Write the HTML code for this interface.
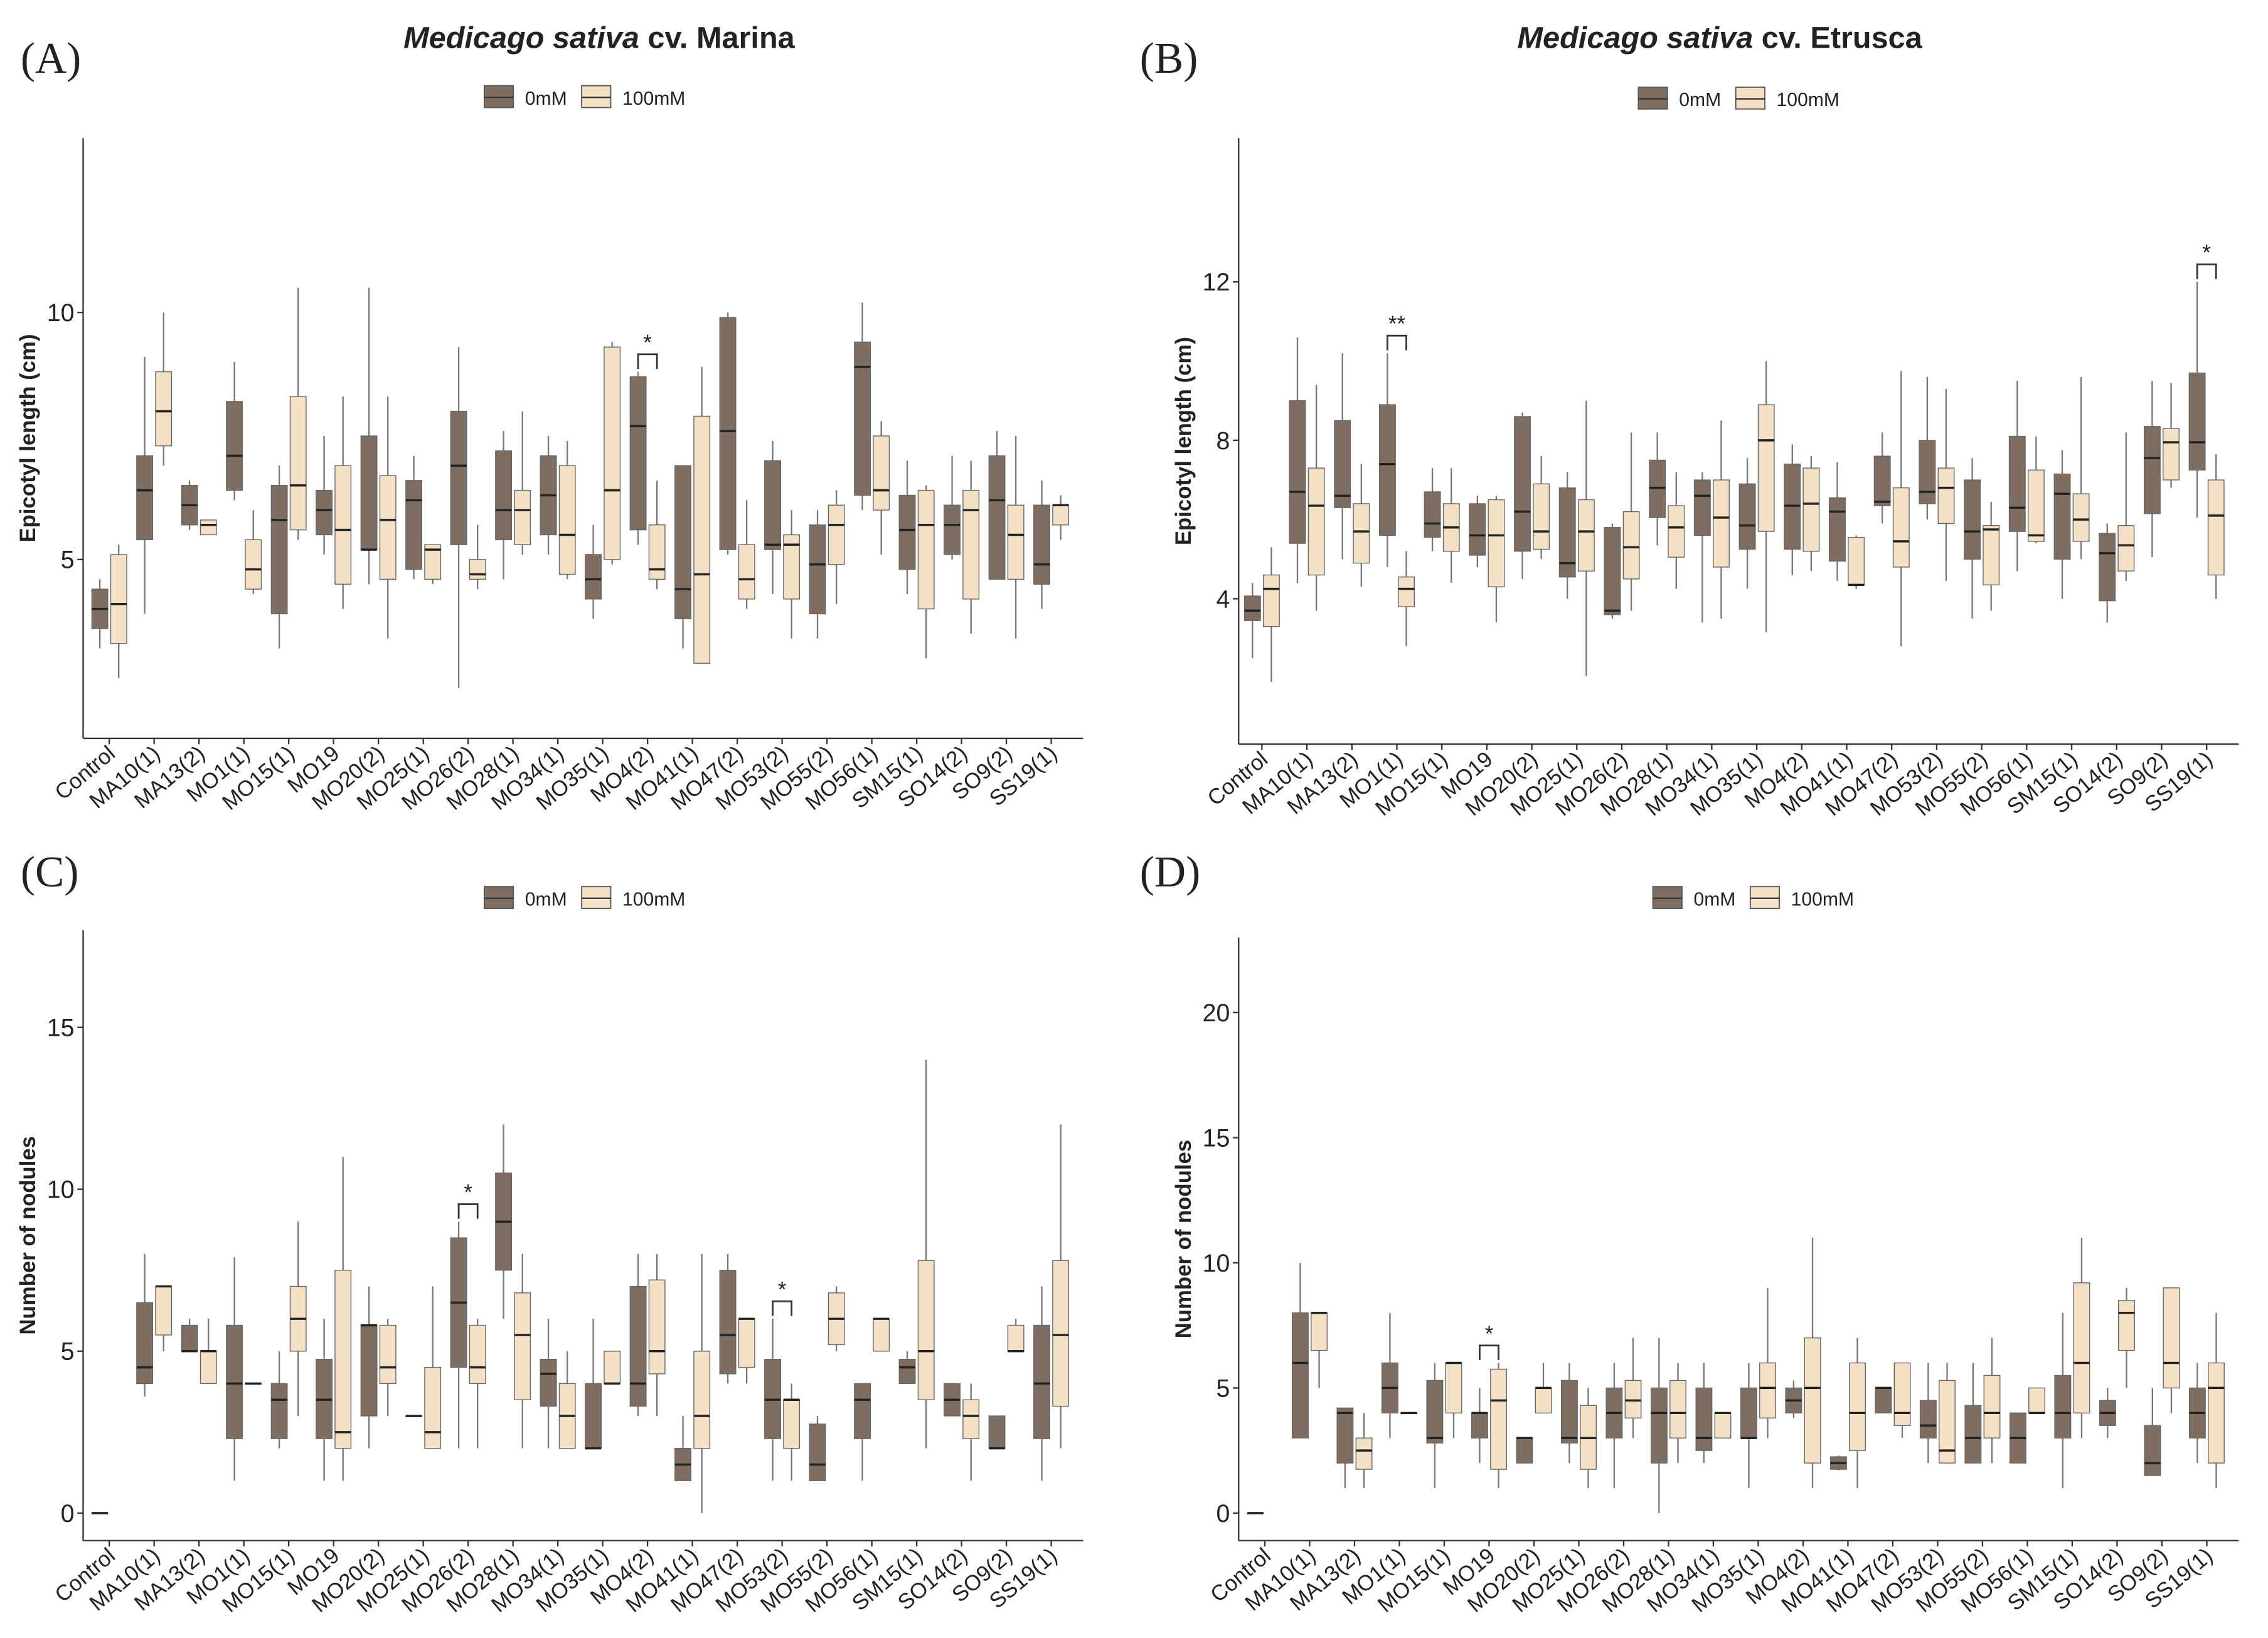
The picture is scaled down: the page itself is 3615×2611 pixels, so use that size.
<!DOCTYPE html>
<html><head><meta charset="utf-8"><style>
html,body{margin:0;padding:0;background:#fff}
svg{display:block}
text{font-family:"Liberation Sans",sans-serif;fill:#222}
</style></head><body>
<svg id="fig" xmlns="http://www.w3.org/2000/svg" width="3615" height="2611" viewBox="0 0 1560 1127">
<rect width="1560" height="1127" fill="#fff"/>
</svg>
<script>
const categories=["Control","MA10(1)","MA13(2)","MO1(1)","MO15(1)","MO19","MO20(2)","MO25(1)","MO26(2)","MO28(1)","MO34(1)","MO35(1)","MO4(2)","MO41(1)","MO47(2)","MO53(2)","MO55(2)","MO56(1)","SM15(1)","SO14(2)","SO9(2)","SS19(1)"];
const seriesNames=["0mM","100mM"];
// [lo, q1, median, q3, hi]
const aZero=[[3.2,3.6,4.0,4.4,4.6],[3.9,5.4,6.4,7.1,9.1],[5.6,5.7,6.1,6.5,6.6],[6.2,6.4,7.1,8.2,9.0],[3.2,3.9,5.8,6.5,6.9],[5.1,5.5,6.0,6.4,7.5],[4.5,5.2,5.2,7.5,10.5],[4.6,4.8,6.2,6.6,7.1],[2.4,5.3,6.9,8.0,9.3],[4.6,5.4,6.0,7.2,7.6],[5.1,5.5,6.3,7.1,7.5],[3.8,4.2,4.6,5.1,5.7],[5.3,5.6,7.7,8.7,8.8],[3.2,3.8,4.4,6.9,6.9],[5.1,5.2,7.6,9.9,10.0],[4.3,5.2,5.3,7.0,7.4],[3.4,3.9,4.9,5.7,6.0],[6.0,6.3,8.9,9.4,10.2],[4.3,4.8,5.6,6.3,7.0],[5.0,5.1,5.7,6.1,7.1],[4.6,4.6,6.2,7.1,7.6],[4.0,4.5,4.9,6.1,6.6]];
const aHundred=[[2.6,3.3,4.1,5.1,5.3],[6.9,7.3,8.0,8.8,10.0],[5.5,5.5,5.7,5.8,5.8],[4.3,4.4,4.8,5.4,6.0],[5.4,5.6,6.5,8.3,10.5],[4.0,4.5,5.6,6.9,8.3],[3.4,4.6,5.8,6.7,8.3],[4.5,4.6,5.2,5.3,5.3],[4.4,4.6,4.7,5.0,5.7],[5.1,5.3,6.0,6.4,8.0],[4.6,4.7,5.5,6.9,7.4],[4.9,5.0,6.4,9.3,9.4],[4.4,4.6,4.8,5.7,6.6],[2.9,2.9,4.7,7.9,8.9],[4.0,4.2,4.6,5.3,6.2],[3.4,4.2,5.3,5.5,6.0],[4.1,4.9,5.7,6.1,6.4],[5.1,6.0,6.4,7.5,7.8],[3.0,4.0,5.7,6.4,6.5],[3.5,4.2,6.0,6.4,7.0],[3.4,4.6,5.5,6.1,7.5],[5.4,5.7,6.1,6.1,6.3]];
const bZero=[[2.5,3.45,3.7,4.07,4.4],[4.4,5.4,6.7,9.0,10.6],[5.0,6.3,6.6,8.5,10.2],[4.8,5.6,7.4,8.9,10.2],[5.2,5.55,5.9,6.7,7.3],[4.8,5.1,5.6,6.4,6.6],[4.5,5.2,6.2,8.6,8.7],[4.0,4.55,4.9,6.8,7.2],[3.5,3.6,3.7,5.8,5.9],[5.35,6.05,6.8,7.5,8.2],[3.4,5.6,6.6,7.0,7.2],[4.25,5.25,5.85,6.9,7.55],[4.6,5.25,6.35,7.4,7.9],[4.45,4.95,6.2,6.55,7.45],[5.9,6.35,6.45,7.6,8.2],[6.0,6.4,6.7,8.0,9.6],[3.5,5.0,5.7,7.0,7.55],[4.7,5.7,6.3,8.1,9.5],[4.0,5.0,6.65,7.15,7.75],[3.4,3.95,5.15,5.65,5.9],[5.05,6.15,7.55,8.35,9.5],[6.05,7.25,7.95,9.7,12.0]];
const bHundred=[[1.9,3.3,4.25,4.6,5.3],[3.7,4.6,6.35,7.3,9.4],[4.3,4.9,5.7,6.4,7.4],[2.8,3.8,4.25,4.55,5.2],[4.4,5.2,5.8,6.4,7.3],[3.4,4.3,5.6,6.5,6.6],[5.0,5.25,5.7,6.9,7.6],[2.05,4.7,5.7,6.5,9.0],[3.7,4.5,5.3,6.2,8.2],[4.25,5.05,5.8,6.35,7.2],[3.5,4.8,6.05,7.0,8.5],[3.15,5.7,8.0,8.9,10.0],[4.7,5.2,6.4,7.3,7.6],[4.25,4.35,4.35,5.55,5.6],[2.8,4.8,5.45,6.8,9.75],[4.45,5.9,6.8,7.3,9.3],[3.7,4.35,5.75,5.85,6.45],[5.4,5.45,5.6,7.25,8.1],[5.0,5.45,6.0,6.65,9.6],[4.45,4.7,5.35,5.85,8.2],[6.8,7.0,7.95,8.3,9.45],[4.0,4.6,6.1,7.0,7.65]];
const cZero=[[0,0,0,0,0],[3.6,4.0,4.5,6.5,8.0],[5.0,5.0,5.0,5.8,6.0],[1.0,2.3,4.0,5.8,7.9],[2.0,2.3,3.5,4.0,5.0],[1.0,2.3,3.5,4.75,6.0],[2.0,3.0,5.8,5.8,7.0],[3,3,3,3,3],[2.0,4.5,6.5,8.5,9.0],[6.0,7.5,9.0,10.5,12.0],[2.0,3.3,4.3,4.75,6.0],[2.0,2.0,2.0,4.0,6.0],[3.0,3.3,4.0,7.0,8.0],[1.0,1.0,1.5,2.0,3.0],[4.0,4.3,5.5,7.5,8.0],[1.0,2.3,3.5,4.75,6.0],[1.0,1.0,1.5,2.75,3.0],[1.0,2.3,3.5,4.0,4.0],[4.0,4.0,4.5,4.75,5.0],[3.0,3.0,3.5,4.0,4.0],[2.0,2.0,2.0,3.0,3.0],[1.0,2.3,4.0,5.8,7.0]];
const cHundred=[null,[5.0,5.5,7.0,7.0,7.0],[4.0,4.0,5.0,5.0,6.0],[4,4,4,4,4],[3.0,5.0,6.0,7.0,9.0],[1.0,2.0,2.5,7.5,11.0],[3.0,4.0,4.5,5.8,6.0],[2.0,2.0,2.5,4.5,7.0],[2.0,4.0,4.5,5.8,6.0],[2.0,3.5,5.5,6.8,8.0],[2.0,2.0,3.0,4.0,5.0],[4.0,4.0,4.0,5.0,5.0],[3.0,4.3,5.0,7.2,8.0],[0,2.0,3.0,5.0,8.0],[4.0,4.5,6.0,6.0,6.0],[1.0,2.0,3.5,3.5,4.0],[5.0,5.2,6.0,6.8,7.0],[5.0,5.0,6.0,6.0,6.0],[2.0,3.5,5.0,7.8,14.0],[1.0,2.3,3.0,3.5,4.0],[5.0,5.0,5.0,5.8,6.0],[2.0,3.3,5.5,7.8,12.0]];
const dZero=[[0,0,0,0,0],[3,3,6,8,10],[1,2,4,4.2,4.2],[3,4,5,6,8],[1,2.8,3,5.3,6],[2,3,4,4,5],[2,2,3,3,3],[2,2.8,3,5.3,6],[1,3,4,5,6],[0,2,4,5,7],[2,2.5,3,5,6],[1,3,3,5,6],[3.8,4,4.5,5,5.3],[1.7,1.75,2,2.25,2.3],[4,4,5,5,5],[2,3,3.5,4.5,6],[2,2,3,4.3,6],[2,2,3,4,4],[1,3,4,5.5,8],[3,3.5,4,4.5,5],[1.5,1.5,2,3.5,5],[2,3,4,5,6]];
const dHundred=[null,[5,6.5,8,8,8],[1,1.75,2.5,3,4],[4,4,4,4,4],[3,4,6,6,6],[1,1.75,4.5,5.75,6],[4,4,5,5,6],[1,1.75,3,4.3,5],[3,3.8,4.5,5.3,7],[2,3,4,5.3,6],[3,3,4,4,4],[3,3.8,5,6,9],[1,2,5,7,11],[1,2.5,4,6,7],[3,3.5,4,6,6],[2,2,2.5,5.3,6],[2,3,4,5.5,7],[4,4,4,5,5],[3,4,6,9.2,11],[5,6.5,8,8.5,9],[4,5,6,9,9],[1,2,5,6,8]];
const aTicks=[5,10], bTicks=[4,8,12], cTicks=[0,5,10,15], dTicks=[0,5,10,15,20];
const aSig=[[12,"*"]], bSig=[[3,"**"],[21,"*"]], cSig=[[8,"*"],[15,"*"]], dSig=[[5,"*"]];

const NS="http://www.w3.org/2000/svg";
const svg=document.getElementById('fig');
function mk(tag,attrs,parent,txt){const e=document.createElementNS(NS,tag);for(const k in attrs)e.setAttribute(k,attrs[k]);if(txt!==undefined)e.textContent=txt;(parent||svg).appendChild(e);return e;}
const COL=["#7e6e62","#f4e0c4"];

function panel(o){
  const g=mk('g',{},svg);
  
  
  const y=v=>o.yb-(v-o.vmin)*(o.yb-o.yt)/(o.vmax-o.vmin);
  const x=i=>o.cx0+i*o.dx;
  const L=mk('text',{x:o.lx,y:o.ly,'font-size':30,style:'font-family:"Liberation Serif",serif'},g,o.letter);
  
  
  if(o.title){
    const t=mk('text',{x:o.tx,y:33,'font-size':21,'font-weight':'bold','text-anchor':'middle'},g);
    
    
    mk('tspan',{'font-style':'italic'},t,'Medicago sativa');
    mk('tspan',{},t,' cv. '+o.title);
  }
  const lg=mk('g',{},g);
  
  
  let lx=o.legx;
  seriesNames.forEach((s,k)=>{
    const e=mk('g',{},lg);
    
    
    mk('rect',{x:lx,y:o.legy-8,width:20,height:15,fill:COL[k],stroke:'#555','stroke-width':0.8},e);
    mk('line',{x1:lx,x2:lx+20,y1:o.legy,y2:o.legy,stroke:'#333','stroke-width':1},e);
    mk('text',{x:lx+28,y:o.legy+5,'font-size':13},e,s);
    lx+=k==0?67:0;
  });
  const ax=mk('line',{x1:o.xl,x2:o.xl,y1:o.yt,y2:o.yb,stroke:'#333','stroke-width':1},g);
  
  
  const bx=mk('line',{x1:o.xl,x2:o.xr,y1:o.yb,y2:o.yb,stroke:'#333','stroke-width':1},g);
  
  
  o.ticks.forEach(t=>{
    mk('line',{x1:o.xl-4,x2:o.xl,y1:y(t),y2:y(t),stroke:'#333'},g);
    const tl=mk('text',{x:o.xl-6,y:y(t)+6,'font-size':17,'text-anchor':'end'},g,String(t));
    
    
  });
  const yt=mk('text',{x:0,y:0,'font-size':15,'font-weight':'bold','text-anchor':'middle',transform:`translate(${o.xl-33},${(o.yt+o.yb)/2}) rotate(-90)`},g,o.ytitle);
  
  
  categories.forEach((c,i)=>{
    mk('line',{x1:x(i),x2:x(i),y1:o.yb,y2:o.yb+4,stroke:'#333'},g);
    const xl=mk('text',{x:0,y:0,'font-size':15,'text-anchor':'end',transform:`translate(${x(i)+5},${o.yb+12}) rotate(-40)`},g,c);
    
    
  });
  [o.s0,o.s1].forEach((ser,k)=>{
    ser.forEach((d,i)=>{
      if(!d)return;
      const cx=x(i)+(k?6.5:-6.5), w=11;
      const bg=mk('g',{},g);
      
      
      mk('line',{x1:cx,x2:cx,y1:y(d[4]),y2:y(d[0]),stroke:'#777','stroke-width':1},bg);
      mk('rect',{x:cx-w/2,y:y(d[3]),width:w,height:Math.max(0.5,y(d[1])-y(d[3])),fill:COL[k],stroke:'#666','stroke-width':0.6},bg);
      mk('line',{x1:cx-w/2,x2:cx+w/2,y1:y(d[2]),y2:y(d[2]),stroke:'#222','stroke-width':1.5},bg);
    });
  });
  o.sig.forEach(([i,s])=>{
    const top=Math.max(o.s0[i][4],o.s1[i]?o.s1[i][4]:0);
    const yy=y(top)-12;
    const sg=mk('g',{},g);
    
    
    mk('path',{d:`M${x(i)-6.5},${yy+10}V${yy}H${x(i)+6.5}V${yy+10}`,fill:'none',stroke:'#333','stroke-width':1.2},sg);
    mk('text',{x:x(i),y:yy-3,'font-size':15,'text-anchor':'middle'},sg,s);
  });
}
panel({name:'panel-a',letter:'(A)',lx:14,ly:50,title:'Marina',tx:412,legx:333,legy:67,xl:57,xr:745,yt:95,yb:508,vmin:1.38,vmax:13.53,cx0:75,dx:30.86,ticks:aTicks,ytitle:'Epicotyl length (cm)',s0:aZero,s1:aHundred,sig:aSig});
panel({name:'panel-b',letter:'(B)',lx:784,ly:50,title:'Etrusca',tx:1183,legx:1127,legy:68,xl:852,xr:1540,yt:95,yb:512,vmin:0.33,vmax:15.63,cx0:868,dx:30.95,ticks:bTicks,ytitle:'Epicotyl length (cm)',s0:bZero,s1:bHundred,sig:bSig});
panel({name:'panel-c',letter:'(C)',lx:14,ly:610,legx:333,legy:618,xl:57,xr:745,yt:640,yb:1060,vmin:-0.85,vmax:18.0,cx0:75,dx:30.86,ticks:cTicks,ytitle:'Number of nodules',s0:cZero,s1:cHundred,sig:cSig});
panel({name:'panel-d',letter:'(D)',lx:784,ly:610,legx:1137,legy:618,xl:852,xr:1540,yt:645,yb:1060,vmin:-1.1,vmax:23.0,cx0:870,dx:30.86,ticks:dTicks,ytitle:'Number of nodules',s0:dZero,s1:dHundred,sig:dSig});
</script>
</body></html>
